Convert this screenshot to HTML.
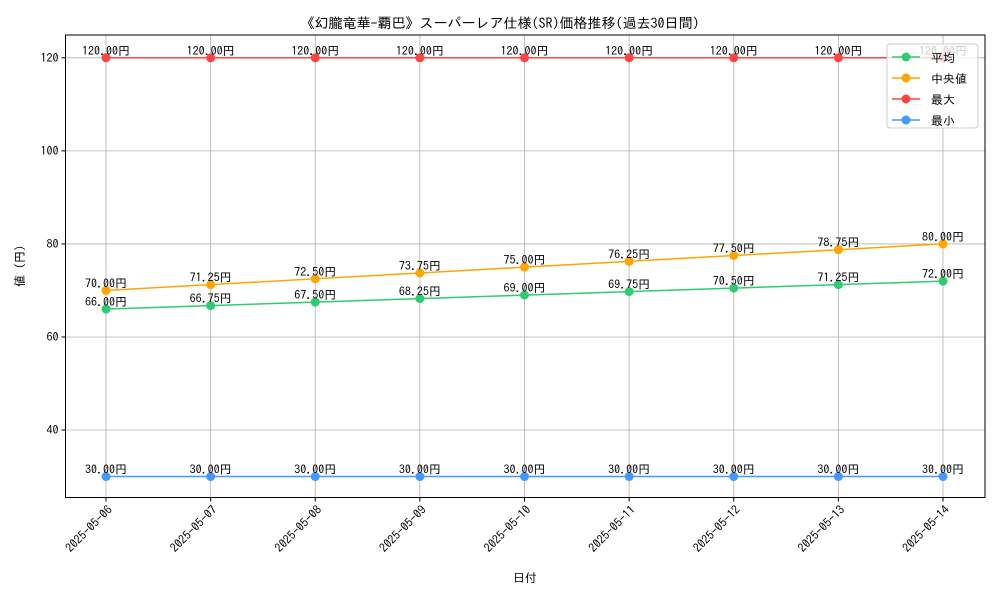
<!DOCTYPE html>
<html><head><meta charset="utf-8"><style>
body{margin:0;background:#fff}
svg{display:block;font-family:"IPAGothic","Noto Sans CJK JP",sans-serif}
</style></head><body>
<svg id="chart" width="1000" height="600">
<text x="500" y="28" text-anchor="middle" font-size="14">《幻朧竜華-覇巴》スーパーレア仕様(SR)価格推移(過去30日間)</text>
<text x="525" y="582" text-anchor="middle" font-size="12">日付</text>
<text transform="translate(24,266) rotate(-90)" text-anchor="middle" font-size="12">値 (円)</text>
<g id="grid"></g><g id="series"></g><g id="axes"></g>
</svg>
<script>
const categories=["2025-05-06","2025-05-07","2025-05-08","2025-05-09","2025-05-10","2025-05-11","2025-05-12","2025-05-13","2025-05-14"];
const avgValues=[66,66.75,67.5,68.25,69,69.75,70.5,71.25,72];
const medianValues=[70,71.25,72.5,73.75,75,76.25,77.5,78.75,80];
const maxValues=[120,120,120,120,120,120,120,120,120];
const minValues=[30,30,30,30,30,30,30,30,30];
const yTicks=[40,60,80,100,120];
const seriesNames=["平均"," 中央値","最大","最小"];
const NS="http://www.w3.org/2000/svg";
const L=65.5,R=985,T=35,B=497.5,yMin=25.5,yMax=124.9;
const x=i=>106+i*(943-106)/(categories.length-1);
const y=v=>B-(v-yMin)/(yMax-yMin)*(B-T);
function mk(tag,attrs,parent){const e=document.createElementNS(NS,tag);for(const k in attrs)e.setAttribute(k,attrs[k]);parent.appendChild(e);return e;}
const grid=document.getElementById('grid'),ser=document.getElementById('series'),axes=document.getElementById('axes');
categories.forEach((c,i)=>{
 const g=mk('line',{x1:x(i),x2:x(i),y1:T,y2:B,stroke:'#b0b0b0','stroke-width':0.8},grid);
 
 
 const tk=mk('line',{x1:x(i),x2:x(i),y1:B,y2:B+4,stroke:'#000'},axes);
 
 
 const t=mk('text',{x:0,y:0,'font-size':12,'text-anchor':'end',transform:`translate(${x(i)+7},${B+13}) rotate(-45)`},axes);
 t.textContent=c;
 
 
});
yTicks.forEach(v=>{
 const g=mk('line',{x1:L,x2:R,y1:y(v),y2:y(v),stroke:'#b0b0b0','stroke-width':0.8},grid);
 
 
 const tk=mk('line',{x1:L-4,x2:L,y1:y(v),y2:y(v),stroke:'#000'},axes);
 
 
 const t=mk('text',{x:L-7,y:y(v)+4,'font-size':12,'text-anchor':'end'},axes);
 t.textContent=v;
 
 
});
const fr=mk('rect',{x:L,y:T,width:R-L,height:B-T,fill:'none',stroke:'#000','stroke-width':1},axes);


const data=[avgValues,medianValues,maxValues,minValues];
const colors=['#2ecc71','#ffa500','#ff4444','#4499ff'];
data.forEach((vals,s)=>{
 const g=mk('g',{},ser);
 
 
 const pl=mk('polyline',{points:vals.map((v,i)=>x(i)+','+y(v)).join(' '),fill:'none',stroke:colors[s],'stroke-width':1.5},g);
 
 
 vals.forEach((v,i)=>{
  const c=mk('circle',{cx:x(i),cy:y(v),r:4.5,fill:colors[s]},g);
  
  
  const t=mk('text',{x:x(i),y:y(v)-3,'font-size':12,'text-anchor':'middle'},g);
  t.textContent=v.toFixed(2)+'円';
  
  
 });
});
const lg=mk('g',{},axes);


mk('rect',{x:887,y:44,width:91,height:84,rx:3,fill:'#fff','fill-opacity':0.8,stroke:'#ccc'},lg);
seriesNames.forEach((n,s)=>{
 const yy=57+s*21;
 const e=mk('g',{},lg);
 
 
 mk('line',{x1:892,x2:920,y1:yy,y2:yy,stroke:colors[s],'stroke-width':1.5},e);
 mk('circle',{cx:906,cy:yy,r:4.5,fill:colors[s]},e);
 const t=mk('text',{x:931,y:yy+5,'font-size':12,'xml:space':'preserve'},e);
 t.textContent=n;
});
</script>
</body></html>
